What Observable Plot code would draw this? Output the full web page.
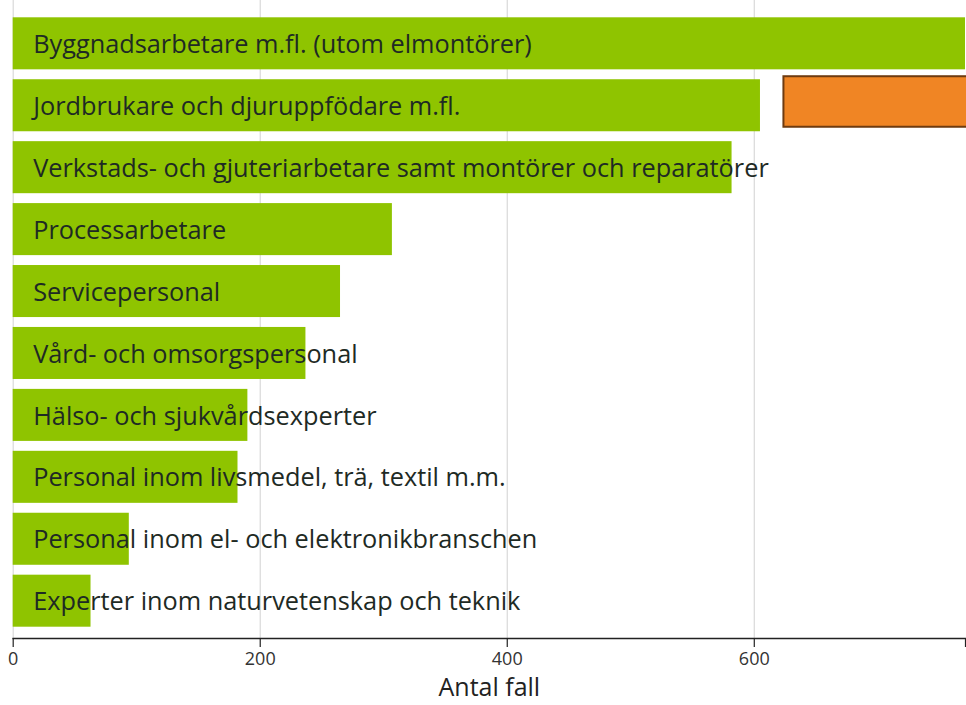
<!DOCTYPE html>
<html>
<head>
<meta charset="utf-8">
<script src="https://cdn.jsdelivr.net/npm/d3@7"></script>
<script src="https://cdn.jsdelivr.net/npm/@observablehq/plot@0.6"></script>
<style>
  html, body { margin: 0; padding: 0; background: #fff; overflow: hidden; }
  #chart svg { display: block; }
</style>
</head>
<body>
<div id="chart"></div>
<script>
const categories = [
  "Byggnadsarbetare m.fl. (utom elmontörer)",
  "Jordbrukare och djuruppfödare m.fl.",
  "Verkstads- och gjuteriarbetare samt montörer och reparatörer",
  "Processarbetare",
  "Servicepersonal",
  "Vård- och omsorgspersonal",
  "Hälso- och sjukvårdsexperter",
  "Personal inom livsmedel, trä, textil m.m.",
  "Personal inom el- och elektronikbranschen",
  "Experter inom naturvetenskap och teknik"
];
const values = [771, 605, 582, 307, 265, 237, 190, 182, 94, 63];
const tickValues = [0, 200, 400, 600];
const axisLabel = "Antal fall";
const highlightCategory = ["Jordbrukare och djuruppfödare m.fl."];
const highlightFrom = [624];
const highlightTo = [800];

const rows = categories.map((c, i) => ({category: c, value: values[i]}));
const highlight = highlightCategory.map((c, i) => ({category: c, x1: highlightFrom[i], x2: highlightTo[i]}));
const xMax = d3.max(values);

const chart = Plot.plot({
  width: 966,
  height: 705,
  marginLeft: 12.7,
  marginRight: 1,
  marginTop: 0,
  marginBottom: 67,
  style: {fontFamily: "'Open Sans', 'Noto Sans', sans-serif", background: "#fff", overflow: "hidden"},
  x: {domain: [0, xMax], axis: null},
  y: {domain: categories, axis: null, range: [17.3, 626.7], padding: 0.16, paddingInner: 0.16, paddingOuter: 0, align: 0.5, round: false},
  marks: [
    Plot.ruleX(tickValues, {stroke: "#d9d9d9", strokeWidth: 1.2}),
    Plot.barX(rows, {x: "value", y: "category", fill: "#8fc400", insetTop: 0, insetBottom: 0}),
    Plot.rect(highlight, {x1: "x1", x2: "x2", y: "category", fill: "#f08524", stroke: "#6e3b10", strokeWidth: 2, dy: -3, insetBottom: 1.5}),
    Plot.text(rows, {x: 0, y: "category", text: "category", dx: 20, dy: 1, textAnchor: "start", fontSize: 25.3, fill: "#1e2a24"}),
    Plot.frame({anchor: "bottom", stroke: "#222", strokeWidth: 1.5}),
    Plot.axisX([...tickValues, xMax], {
      tickSize: 9, tickPadding: 5, fontSize: 18, stroke: "#222", strokeWidth: 1.2,
      tickFormat: d => tickValues.includes(d) ? d : "", label: null,
      fill: "#333"
    }),
    Plot.text([axisLabel], {frameAnchor: "bottom", dy: 57, fontSize: 25, fill: "#222", text: d => d})
  ]
});
document.getElementById("chart").appendChild(chart);
</script>
</body>
</html>
